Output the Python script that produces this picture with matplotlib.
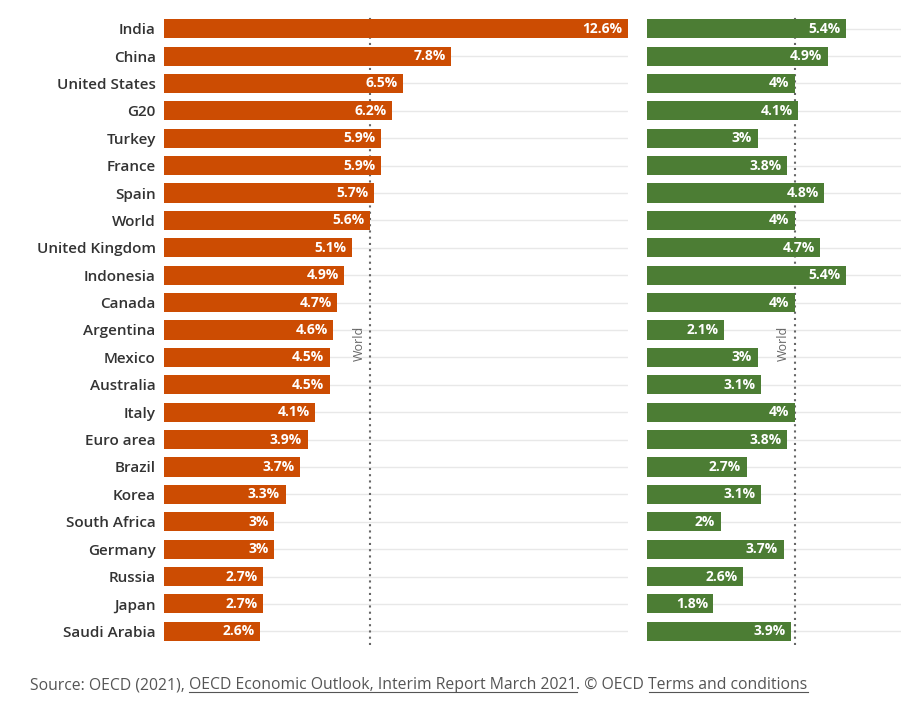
import matplotlib.pyplot as plt

plt.rcParams['font.family'] = ['Open Sans', 'DejaVu Sans']

countries = ['India', 'China', 'United States', 'G20', 'Turkey', 'France', 'Spain',
             'World', 'United Kingdom', 'Indonesia', 'Canada', 'Argentina', 'Mexico',
             'Australia', 'Italy', 'Euro area', 'Brazil', 'Korea', 'South Africa',
             'Germany', 'Russia', 'Japan', 'Saudi Arabia']
growth_2021 = [12.6, 7.8, 6.5, 6.2, 5.9, 5.9, 5.7, 5.6, 5.1, 4.9, 4.7, 4.6, 4.5,
               4.5, 4.1, 3.9, 3.7, 3.3, 3.0, 3.0, 2.7, 2.7, 2.6]
growth_2022 = [5.4, 4.9, 4.0, 4.1, 3.0, 3.8, 4.8, 4.0, 4.7, 5.4, 4.0, 2.1, 3.0,
               3.1, 4.0, 3.8, 2.7, 3.1, 2.0, 3.7, 2.6, 1.8, 3.9]
world_2021 = 5.6
world_2022 = 4.0

ORANGE = '#cc4c02'
GREEN = '#4c7d34'
GRID = '#e8e8e8'

fig = plt.figure(figsize=(9.01, 7.12), dpi=100)
ax1 = fig.add_axes([164 / 901, 1 - 645 / 712, (628 - 164) / 901, 630 / 712])
ax2 = fig.add_axes([647 / 901, 1 - 645 / 712, (901 - 647) / 901, 630 / 712])

y = list(range(len(countries)))


def panel(ax, vals, world, color, xmax, show_labels):
    for yi in y:
        ax.axhline(yi, color=GRID, lw=1, zorder=0)
    ax.axvline(world, color='#666666', ls=(0, (1, 2)), lw=1.5, zorder=1)
    ax.barh(y, vals, height=0.7, color=color, zorder=2)
    for yi, v in zip(y, vals):
        ax.annotate(f"{v:g}%", (v, yi), xytext=(-4, 0), textcoords='offset points',
                    ha='right', va='center', color='white', fontsize=10,
                    fontweight='bold', zorder=3)
    ax.annotate('World', (world, 11.5), xytext=(-8, 0), textcoords='offset points',
                rotation=90, ha='center', va='center', color='#666666', fontsize=9)
    ax.set_xlim(0, xmax)
    ax.set_ylim(len(countries) - 0.5, -0.5)
    ax.set_xticks([])
    ax.set_yticks(y)
    if show_labels:
        ax.set_yticklabels(countries, fontsize=11, color='#333333', fontweight='semibold')
    else:
        ax.set_yticklabels([])
    ax.tick_params(axis='y', length=0, pad=6)
    for s in ax.spines.values():
        s.set_visible(False)


panel(ax1, growth_2021, world_2021, ORANGE, 12.6, True)
panel(ax2, growth_2022, world_2022, GREEN, (901 - 647) / 36.9, False)

# source line, with underlined parts
parts = [('Source: OECD (2021), ', False),
         ('OECD Economic Outlook, Interim Report March 2021', True),
         ('. © OECD ', False),
         ('Terms and conditions', True)]
fig.canvas.draw()
renderer = fig.canvas.get_renderer()
x = 30
texts = []
for s, ul in parts:
    t = fig.text(x / 901, 1 - 685 / 712, s, fontsize=11.3, color='#555555',
                 va='center', ha='left')
    bb = t.get_window_extent(renderer)
    texts.append((t, ul, bb))
    x = bb.x1
for t, ul, bb in texts:
    if ul:
        yy = bb.y0 + 1
        fig.add_artist(plt.Line2D([bb.x0 / 901, bb.x1 / 901], [yy / 712, yy / 712],
                                  color='#555555', lw=0.8))

fig.savefig('out.png', dpi=100)
